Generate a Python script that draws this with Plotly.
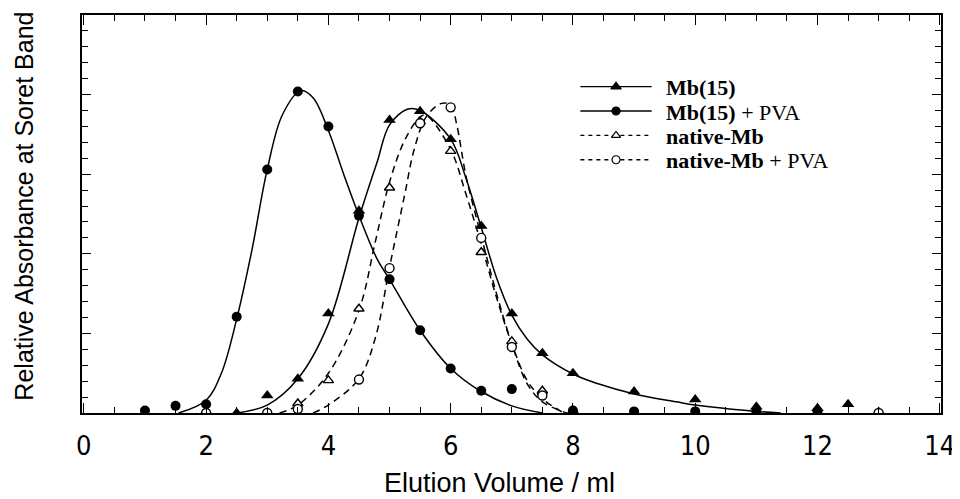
import plotly.graph_objects as go

# ---------------- data ----------------
# measured points
mb_x = [1.0, 2.5, 3.0, 3.5, 4.0, 4.5, 5.0, 5.5, 6.0, 6.5, 7.0, 7.5, 8.0, 9.0, 10.0, 11.0, 12.0, 12.5]
mb_y = [0.0, 0.0, 0.22, 0.43, 1.25, 2.54, 3.68, 3.79, 3.44, 2.35, 1.25, 0.75, 0.50, 0.27, 0.17, 0.08, 0.06, 0.11]

mbpva_x = [1.0, 1.5, 2.0, 2.5, 3.0, 3.5, 4.0, 4.5, 5.0, 5.5, 6.0, 6.5, 7.0, 8.0, 9.0, 10.0, 11.0, 12.0]
mbpva_y = [0.03, 0.09, 0.11, 1.21, 3.06, 4.04, 3.60, 2.48, 1.68, 1.04, 0.56, 0.28, 0.30, 0.03, 0.02, 0.02, 0.02, 0.02]

nat_x = [2.0, 3.5, 4.0, 4.5, 5.0, 5.5, 6.0, 6.5, 7.0, 7.5, 8.0, 13.0]
nat_y = [0.02, 0.12, 0.41, 1.31, 2.83, 3.66, 3.29, 2.02, 0.90, 0.28, 0.03, 0.01]

natpva_x = [2.0, 3.0, 3.5, 4.5, 5.0, 5.5, 6.0, 6.5, 7.0, 7.5, 13.0]
natpva_y = [0.0, 0.0, 0.05, 0.42, 1.82, 3.64, 3.84, 2.20, 0.83, 0.22, 0.0]

# fitted curves as drawn in the picture
mb_cx = [2.5, 3.0, 3.5, 4.0, 4.5, 4.8, 5.0, 5.3, 5.5, 6.0, 6.25, 6.5, 6.75, 7.0, 7.25, 7.5, 8.0, 8.4, 9.0, 9.7, 10.0, 11.0, 11.4]
mb_cy = [0.0, 0.10, 0.43, 1.12, 2.45, 3.16, 3.62, 3.82, 3.80, 3.44, 2.95, 2.33, 1.70, 1.23, 0.93, 0.73, 0.49, 0.37, 0.24, 0.14, 0.10, 0.02, 0.0]

mbpva_cx = [1.55, 2.0, 2.25, 2.5, 2.75, 3.0, 3.25, 3.55, 3.75, 4.0, 4.25, 4.5, 4.8, 5.0, 5.5, 6.0, 6.5, 7.0, 7.5]
mbpva_cy = [0.0, 0.16, 0.50, 1.18, 2.05, 3.06, 3.75, 4.05, 3.96, 3.55, 3.00, 2.48, 1.93, 1.68, 1.04, 0.56, 0.27, 0.09, 0.0]

nat_cx = [3.2, 3.5, 4.0, 4.5, 4.77, 5.0, 5.25, 5.5, 5.6, 6.0, 6.25, 6.5, 6.75, 7.0, 7.25, 7.5, 7.85]
nat_cy = [0.0, 0.10, 0.50, 1.29, 2.16, 2.90, 3.43, 3.72, 3.74, 3.31, 2.75, 2.12, 1.45, 0.87, 0.41, 0.18, 0.0]

natpva_cx = [3.75, 4.0, 4.5, 4.77, 5.0, 5.25, 5.4, 5.6, 5.85, 6.0, 6.1, 6.25, 6.5, 6.75, 7.0, 7.25, 7.5, 7.9]
natpva_cy = [0.0, 0.10, 0.43, 0.95, 1.83, 2.75, 3.30, 3.72, 3.89, 3.87, 3.62, 2.98, 2.22, 1.50, 0.87, 0.37, 0.14, 0.0]

x_ticks = [0, 2, 4, 6, 8, 10, 12, 14]
x_title = "Elution Volume / ml"
y_title = "Relative Absorbance at Soret Band"
legend_labels = ["<b>Mb(15)</b>", "<b>Mb(15)</b> + PVA", "<b>native-Mb</b>", "<b>native-Mb</b> + PVA"]

# ---------------- styles ----------------
BLACK = "black"
LW = 1.5
DASH = "7px,5px"
TICKFONT = dict(family="Liberation Sans Narrow, DejaVu Sans Condensed, Arial Narrow, sans-serif", size=27, color=BLACK)
TITLEFONT = dict(family="Liberation Sans, Arial, Helvetica, sans-serif", size=25, color=BLACK)
LEGFONT = dict(family="Liberation Serif, Times New Roman, serif", size=22, color=BLACK)

fig = go.Figure()

# curves
fig.add_trace(go.Scatter(x=mbpva_cx, y=mbpva_cy, mode="lines", line=dict(color=BLACK, width=LW, shape="spline", smoothing=1.0), hoverinfo="skip"))
fig.add_trace(go.Scatter(x=mb_cx, y=mb_cy, mode="lines", line=dict(color=BLACK, width=LW, shape="spline", smoothing=1.0), hoverinfo="skip"))
fig.add_trace(go.Scatter(x=nat_cx, y=nat_cy, mode="lines", line=dict(color=BLACK, width=LW, dash=DASH, shape="spline", smoothing=1.0), hoverinfo="skip"))
fig.add_trace(go.Scatter(x=natpva_cx, y=natpva_cy, mode="lines", line=dict(color=BLACK, width=LW, dash=DASH, shape="spline", smoothing=1.0), hoverinfo="skip"))

# markers
fig.add_trace(go.Scatter(x=nat_x, y=nat_y, mode="markers", marker=dict(symbol="triangle-up", size=9, color="white", line=dict(color=BLACK, width=1.4))))
fig.add_trace(go.Scatter(x=natpva_x, y=natpva_y, mode="markers", marker=dict(symbol="circle", size=9, color="white", line=dict(color=BLACK, width=1.4))))
fig.add_trace(go.Scatter(x=mb_x, y=mb_y, mode="markers", marker=dict(symbol="triangle-up", size=11, color=BLACK, line=dict(width=0))))
fig.add_trace(go.Scatter(x=mbpva_x, y=mbpva_y, mode="markers", marker=dict(symbol="circle", size=10, color=BLACK, line=dict(width=0))))

# manual legend on an overlay axis in pixel-like units of the plot frame
leg_rows = [85, 109.5, 134, 158.5]
leg_x0, leg_xm, leg_x1 = 585, 621, 657
leg_styles = [
    dict(dash="solid", symbol="triangle-up", fill=BLACK, size=9),
    dict(dash="solid", symbol="circle", fill=BLACK, size=8),
    dict(dash="4px,4px", symbol="triangle-up", fill="white", size=8),
    dict(dash="4px,4px", symbol="circle", fill="white", size=8),
]
for row, st in zip(leg_rows, leg_styles):
    fig.add_trace(go.Scatter(x=[leg_x0, leg_x1], y=[row, row], mode="lines", xaxis="x2", yaxis="y2",
                             line=dict(color=BLACK, width=1.3, dash=st["dash"]), hoverinfo="skip"))
    fig.add_trace(go.Scatter(x=[leg_xm], y=[row], mode="markers", xaxis="x2", yaxis="y2",
                             marker=dict(symbol=st["symbol"], size=st["size"], color=st["fill"], line=dict(color=BLACK, width=1.2)),
                             hoverinfo="skip"))

annotations = []
for row, lab in zip(leg_rows, legend_labels):
    annotations.append(dict(x=670, y=row + 1, xref="x2", yref="y2", text=lab, showarrow=False,
                            xanchor="left", yanchor="middle", borderpad=0, font=LEGFONT))

annotations.append(dict(x=0.486, y=-0.1765, xref="paper", yref="paper", text=x_title, showarrow=False,
                        xanchor="center", yanchor="middle", font=dict(TITLEFONT, size=27)))
annotations.append(dict(x=-0.068, y=0.52, xref="paper", yref="paper", text=y_title, showarrow=False,
                        textangle=-90, xanchor="center", yanchor="middle", font=TITLEFONT))

# the page body has an 8px margin, so the figure is made 8px smaller and shifted
fig.update_layout(
    width=952, height=491,
    margin=dict(l=74, r=11, t=5, b=86),
    paper_bgcolor="white", plot_bgcolor="white",
    showlegend=False,
    annotations=annotations,
    xaxis=dict(range=[-0.03, 14.02], tickmode="array", tickvals=x_ticks, ticktext=[str(v) for v in x_ticks],
               ticks="inside", ticklen=10, tickwidth=1.2, tickcolor=BLACK,
               minor=dict(dtick=0.5, ticks="inside", ticklen=6, tickwidth=1.1, tickcolor=BLACK, showgrid=False),
               showline=True, linecolor=BLACK, linewidth=1.5, mirror="ticks",
               showgrid=False, zeroline=False, tickfont=TICKFONT, ticklabelstandoff=8,
               ticklabeloverflow="allow"),
    yaxis=dict(range=[0, 5], dtick=1, showticklabels=False,
               ticks="inside", ticklen=9, tickwidth=1.2, tickcolor=BLACK,
               minor=dict(dtick=0.2, ticks="inside", ticklen=6, tickwidth=1.1, tickcolor=BLACK, showgrid=False),
               showline=True, linecolor=BLACK, linewidth=1.5, mirror="ticks",
               showgrid=False, zeroline=False),
    xaxis2=dict(overlaying="x", range=[82, 949], visible=False, anchor="y2"),
    yaxis2=dict(overlaying="y", range=[413, 13], visible=False, anchor="x2"),
)

fig.write_html("out.html")
